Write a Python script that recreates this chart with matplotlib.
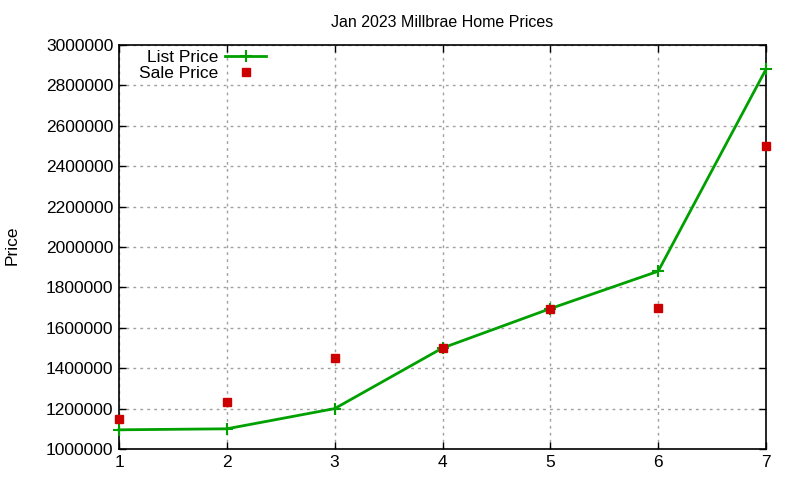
import matplotlib
matplotlib.use("Agg")
import matplotlib.pyplot as plt

plt.rcParams['font.family'] = ['Liberation Sans', 'DejaVu Sans']

x = [1, 2, 3, 4, 5, 6, 7]
list_price = [1095000, 1100000, 1200000, 1500000, 1695000, 1880000, 2880000]
sale_price = [1150000, 1235000, 1450000, 1500000, 1695000, 1700000, 2500000]
yticks = list(range(1000000, 3000001, 200000))

fig = plt.figure(figsize=(8, 4.8), dpi=100)
ax = fig.add_axes([119/800, 31/480, (766-119)/800, (449-45)/480])

ax.plot(x, list_price, color='#00a000', linewidth=2, marker='+', markersize=9,
        markeredgewidth=1.5, label='List Price', clip_on=False, zorder=3)
ax.plot(x, sale_price, linestyle='none', color='#cc0000', marker='s', markersize=6,
        label='Sale Price', clip_on=False, zorder=4)

ax.set_xlim(1, 7)
ax.set_ylim(1000000, 3000000)
ax.set_xticks(x)
ax.set_yticks(yticks)
ax.set_yticklabels([str(v) for v in yticks])
ax.tick_params(direction='in', top=True, right=True, labelsize=12.5, length=5, width=1)
ax.tick_params(axis='x', pad=4)
ax.tick_params(axis='y', pad=4)
ax.grid(True, color='#a0a0a0', linestyle=(0, (2, 3)), linewidth=1)
for s in ax.spines.values():
    s.set_linewidth(1.2)

ax.set_title('Jan 2023 Millbrae Home Prices', fontsize=11.5, pad=13)
fig.text(12/800, 1 - 245/480, 'Price', rotation=90, fontsize=12.5,
         ha='center', va='center')

leg = ax.legend(loc='upper left', bbox_to_anchor=(0.012, 1.017), frameon=False,
                markerfirst=False, fontsize=12.5, handlelength=2.36,
                handletextpad=0.4, labelspacing=0.0, borderaxespad=0.3)

fig.savefig('out.png', dpi=100)
